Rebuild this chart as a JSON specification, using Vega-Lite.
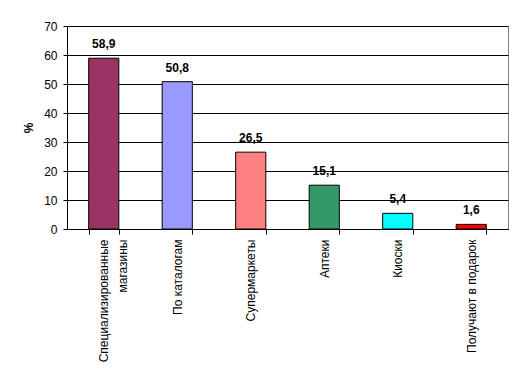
{
  "$schema": "https://vega.github.io/schema/vega-lite/v6.json",
  "width": 441,
  "height": 203,
  "autosize": {"type": "none"},
  "padding": {"left": 67, "top": 26, "right": 16, "bottom": 155},
  "background": "white",
  "config": {
    "locale": {"number": {"decimal": ",", "thousands": " ", "grouping": [3], "currency": ["", ""]}},
    "font": "Liberation Sans",
    "view": {"stroke": "#808080", "strokeWidth": 1}
  },
  "data": {
    "values": [
      {"cat": "Специализированные|магазины", "value": 58.9, "color": "#993366"},
      {"cat": "По каталогам", "value": 50.8, "color": "#9999FF"},
      {"cat": "Супермаркеты", "value": 26.5, "color": "#FF8080"},
      {"cat": "Аптеки", "value": 15.1, "color": "#339966"},
      {"cat": "Киоски", "value": 5.4, "color": "#00FFFF"},
      {"cat": "Получают в подарок", "value": 1.6, "color": "#FF0000"}
    ]
  },
  "encoding": {
    "x": {
      "field": "cat", "type": "nominal", "sort": null,
      "scale": {"paddingInner": 0.59, "paddingOuter": 0.295},
      "axis": {
        "title": null, "labelAngle": -90, "labelAlign": "right", "labelBaseline": "middle",
        "labelExpr": "split(datum.label, '|')", "labelLineHeight": 19,
        "labelFontSize": 12, "labelColor": "black", "labelPadding": 5,
        "tickBand": "extent", "tickColor": "black", "tickSize": 5,
        "domainColor": "black", "grid": false, "labelLimit": 300
      }
    },
    "y": {
      "field": "value", "type": "quantitative",
      "scale": {"domain": [0, 70]},
      "axis": {
        "title": "%", "titleFontSize": 12, "titleFontWeight": "bold", "titleColor": "black",
        "titlePadding": 8,
        "values": [0, 10, 20, 30, 40, 50, 60, 70],
        "labelFontSize": 12, "labelColor": "black", "labelPadding": 6,
        "tickColor": "black", "tickSize": 4, "domainColor": "black",
        "grid": true, "gridColor": "black", "gridOpacity": 1, "gridWidth": 1
      }
    }
  },
  "layer": [
    {
      "mark": {"type": "bar", "stroke": "black", "strokeWidth": 1},
      "encoding": {"color": {"field": "color", "type": "nominal", "scale": null}}
    },
    {
      "mark": {"type": "text", "baseline": "bottom", "dy": -7, "fontSize": 12, "fontWeight": "bold", "color": "black"},
      "encoding": {"text": {"field": "value", "type": "quantitative", "format": ".1f"}}
    }
  ]
}
